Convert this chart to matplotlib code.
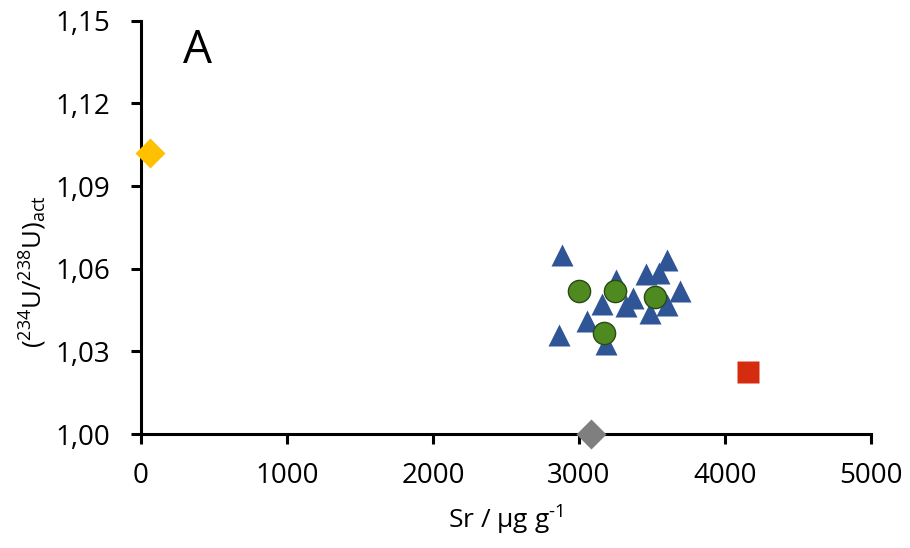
import matplotlib
matplotlib.use("Agg")
import matplotlib.pyplot as plt

plt.rcParams['font.family'] = ['Open Sans', 'DejaVu Sans']
plt.rcParams['mathtext.fontset'] = 'custom'
plt.rcParams['mathtext.rm'] = 'Open Sans'
plt.rcParams['mathtext.it'] = 'Open Sans:italic'

# blue triangles
tri_sr = [2887, 3257, 3462, 3551, 3606, 3695, 3373, 3161, 3325, 3490, 3606, 3058, 2866, 3188]
tri_u = [1.0650, 1.0559, 1.0581, 1.0585, 1.0632, 1.0519, 1.0494, 1.0472, 1.0465,
         1.0440, 1.0469, 1.0410, 1.0360, 1.0327]
# green circles
circ_sr = [3003, 3250, 3524, 3175]
circ_u = [1.0519, 1.0519, 1.0498, 1.0367]
# single points
yel_sr, yel_u = [58], [1.1020]
gray_sr, gray_u = [3080], [1.0000]
red_sr, red_u = [4157], [1.0225]

xticks = [0, 1000, 2000, 3000, 4000, 5000]
yticks = [1.00, 1.03, 1.06, 1.09, 1.12, 1.15]

fig = plt.figure(figsize=(9.1, 5.48), dpi=100)
ax = fig.add_axes([0.155, 0.208, 0.802, 0.754])

ax.plot(tri_sr, tri_u, '^', ms=16, color='#2F5597', mec='none', ls='none', zorder=3)
ax.plot(circ_sr, circ_u, 'o', ms=16, color='#4E8A1F', mec='#2A4A12', mew=1, ls='none', zorder=4)
ax.plot(yel_sr, yel_u, 'D', ms=15.5, color='#FFC000', mec='none', ls='none', zorder=5, clip_on=False)
ax.plot(gray_sr, gray_u, 'D', ms=15.5, color='#7F7F7F', mec='none', ls='none', zorder=5, clip_on=False)
ax.plot(red_sr, red_u, 's', ms=16, color='#D52B0E', mec='none', ls='none', zorder=5)

ax.set_xlim(0, 5000)
ax.set_ylim(1.00, 1.15)
ax.set_xticks(xticks)
ax.set_yticks(yticks)
ax.set_xticklabels([str(v) for v in xticks])
ax.set_yticklabels([('%.2f' % v).replace('.', ',') for v in yticks])

for s in ['top', 'right']:
    ax.spines[s].set_visible(False)
for s in ['left', 'bottom']:
    ax.spines[s].set_linewidth(2.2)
ax.tick_params(direction='out', length=7, width=2.2, labelsize=20)
ax.tick_params(axis='y', pad=15)
ax.tick_params(axis='x', pad=13)

ax.set_xlabel(r'Sr / µg g$^{\text{-}1}$', fontsize=19)
ax.xaxis.set_label_coords(0.5, -0.168)
fig.text(33 / 910, 1 - 272 / 548, r'$(^{234}\mathrm{U}/^{238}\mathrm{U})_{\mathrm{act}}$',
         fontsize=18.5, rotation=90, ha='center', va='center')

ax.text(0.077, 0.927, 'A', transform=ax.transAxes, fontsize=33, ha='center', va='center')

fig.savefig('out.png', dpi=100)
